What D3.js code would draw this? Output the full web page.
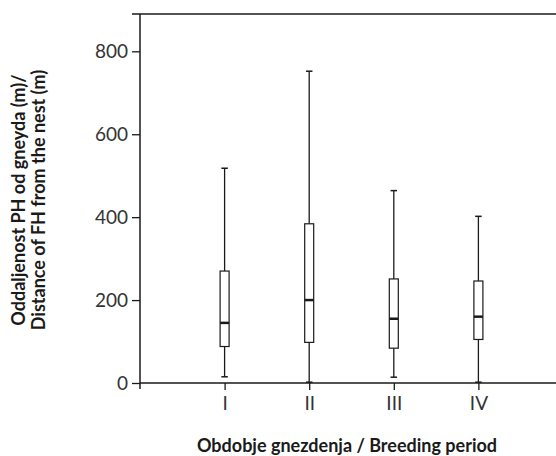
<!DOCTYPE html>
<html><head><meta charset="utf-8">
<script src="https://cdn.jsdelivr.net/npm/d3@7"></script>
<style>body{margin:0;background:#fff}svg{display:block}</style>
</head><body>
<script>
const categories = ["I", "II", "III", "IV"];
const whiskerLow = [15, 2, 14, 2];
const q1 = [88, 98, 84, 105];
const median = [145, 200, 155, 160];
const q3 = [270, 384, 251, 246];
const whiskerHigh = [518, 752, 464, 402];
const yTicks = [0, 200, 400, 600, 800];
const yTitle = ["Oddaljenost PH od gneyda (m)/", "Distance of FH from the nest (m)"];
const xTitle = "Obdobje gnezdenja / Breeding period";

const W = 556, H = 456;
const svg = d3.select("body").append("svg").attr("width", W).attr("height", H);
const y = d3.scaleLinear().domain([0, 890]).range([383, 14]);
const x = d3.scaleLinear().domain([0, 5]).range([140, 563]);
const ink = "#1a1a1a";
const tickFont = "Lato, 'Open Sans', sans-serif";

svg.append("line").attr("x1", 132).attr("x2", W).attr("y1", y(890)).attr("y2", y(890))
  .attr("stroke", ink).attr("stroke-width", 1.5);
svg.append("line").attr("x1", 140).attr("x2", W).attr("y1", y(0)).attr("y2", y(0))
  .attr("stroke", ink).attr("stroke-width", 1.5);

const yAxis = svg.append("g").attr("transform", "translate(140,0)")
  .call(d3.axisLeft(y).tickValues(yTicks).tickSize(8).tickPadding(4));
yAxis.select(".domain").remove();
yAxis.append("line").attr("x1", 0).attr("x2", 0).attr("y1", y(890)).attr("y2", y(0) + 6)
  .attr("stroke", ink).attr("stroke-width", 1.5);
yAxis.selectAll(".tick line").attr("stroke", ink).attr("stroke-width", 1.3);
yAxis.selectAll(".tick text").attr("fill", "#333").style("font-family", tickFont)
  .style("font-weight", 400).style("font-size", "19px");

const xAxis = svg.append("g").attr("transform", `translate(0,${y(0)})`)
  .call(d3.axisBottom(x).tickValues(d3.range(1, categories.length + 1))
    .tickFormat(d => categories[d - 1]).tickSize(7).tickPadding(7));
xAxis.select(".domain").remove();
xAxis.selectAll(".tick line").attr("stroke", ink).attr("stroke-width", 1.3);
xAxis.selectAll(".tick text").attr("fill", "#333").style("font-family", tickFont)
  .style("font-weight", 400).style("font-size", "19px");

const bw = 9, cw = 6.5;
const g = svg.append("g");
categories.forEach((c, i) => {
  const cx = x(i + 1);
  g.append("line").attr("x1", cx).attr("x2", cx).attr("y1", y(whiskerHigh[i])).attr("y2", y(q3[i]))
    .attr("stroke", ink).attr("stroke-width", 1.3);
  g.append("line").attr("x1", cx).attr("x2", cx).attr("y1", y(q1[i])).attr("y2", y(whiskerLow[i]))
    .attr("stroke", ink).attr("stroke-width", 1.3);
  g.append("line").attr("x1", cx - cw / 2).attr("x2", cx + cw / 2).attr("y1", y(whiskerHigh[i])).attr("y2", y(whiskerHigh[i]))
    .attr("stroke", ink).attr("stroke-width", 1.5);
  g.append("line").attr("x1", cx - cw / 2).attr("x2", cx + cw / 2).attr("y1", y(whiskerLow[i])).attr("y2", y(whiskerLow[i]))
    .attr("stroke", ink).attr("stroke-width", 1.5);
  g.append("rect").attr("x", cx - bw / 2).attr("width", bw).attr("y", y(q3[i])).attr("height", y(q1[i]) - y(q3[i]))
    .attr("fill", "#fff").attr("stroke", ink).attr("stroke-width", 1.2);
  g.append("line").attr("x1", cx - bw / 2).attr("x2", cx + bw / 2).attr("y1", y(median[i])).attr("y2", y(median[i]))
    .attr("stroke", ink).attr("stroke-width", 2.5);
});

const tf = "Lato, 'Open Sans', sans-serif";
svg.append("text").attr("x", 347).attr("y", 452).attr("text-anchor", "middle")
  .style("font-family", tf).style("font-weight", 700).style("font-size", "18px").attr("fill", ink)
  .text(xTitle);
const yt = svg.append("text").attr("transform", "translate(0,200) rotate(-90)").attr("text-anchor", "middle")
  .style("font-family", tf).style("font-weight", 700).style("font-size", "18px").attr("fill", ink);
yt.append("tspan").attr("x", 0).attr("y", 25).text(yTitle[0]);
yt.append("tspan").attr("x", 0).attr("y", 45).text(yTitle[1]);
</script>
</body></html>
